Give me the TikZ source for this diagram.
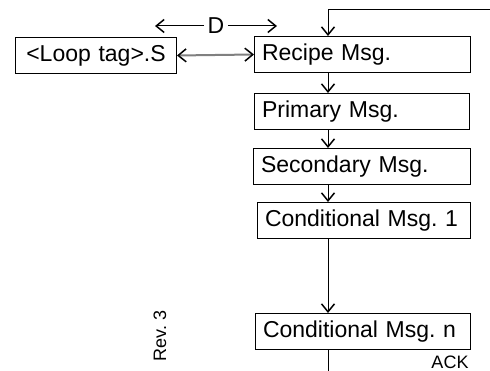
\documentclass[tikz,border=0pt]{standalone}
\usepackage{fontspec}
\setmainfont{Liberation Sans}
\usetikzlibrary{arrows.meta}
\frenchspacing
\begin{document}
\begin{tikzpicture}[x=1pt,y=-1pt,
  line width=1pt,
  >={Straight Barb[length=8pt,width=13pt,line width=1.5pt]},
  msg/.style={draw, anchor=north west, minimum height=36pt, inner xsep=7.5pt, inner ysep=0pt,
    font=\fontsize{23}{26}\selectfont\frenchspacing, align=left},
  lbl/.style={font=\fontsize{18}{20}\selectfont, inner sep=0pt}]
\useasboundingbox (0,0) rectangle (490,371);
% boxes
\node[msg, text width=146pt, align=center] (loop) at (15,37) {<Loop tag>.S};
\node[msg, text width=201pt] (recipe) at (254,36) {Recipe Msg.};
\node[msg, text width=200pt] (primary) at (254,93) {Primary Msg.};
\node[msg, text width=202pt] (secondary) at (253,148) {Secondary Msg.};
\node[msg, text width=198pt] (cond1) at (257,202) {Conditional Msg. 1};
\node[msg, text width=200pt] (condn) at (255,313) {Conditional Msg. n};
% helper coordinates
\coordinate (xl) at (328,0);
\coordinate (tr) at (492,10);
\coordinate (bot) at (328,373);
\coordinate (dl) at (155,26);
\coordinate (dr) at (277,26);
% D dimension
\node[font=\fontsize{23}{26}\selectfont, inner xsep=3pt, inner ysep=0pt] (D) at (216,26) {D};
\draw[->] (D.west) -- (dl);
\draw[->] (D.east) -- (dr);
% loop tag link
\draw[gray, line width=2pt, {Straight Barb[length=8pt,width=13pt,line width=1.5pt,color=black]}-{Straight Barb[length=8pt,width=13pt,line width=1.5pt,color=black]}] (loop.east) -- (recipe.west);
% flow
\draw[->] (tr) -| (recipe.north -| xl);
\draw[->] (recipe.south -| xl) -- (primary.north -| xl);
\draw[->] (primary.south -| xl) -- (secondary.north -| xl);
\draw[->] (secondary.south -| xl) -- (cond1.north -| xl);
\draw[->] (cond1.south -| xl) -- (condn.north -| xl);
\draw (condn.south -| xl) -- (bot);
% labels
\node[lbl] (ack) at (450,362) {ACK};
\node[lbl, rotate=90] (rev) at (160,336) {Rev. 3};
\end{tikzpicture}
\end{document}
